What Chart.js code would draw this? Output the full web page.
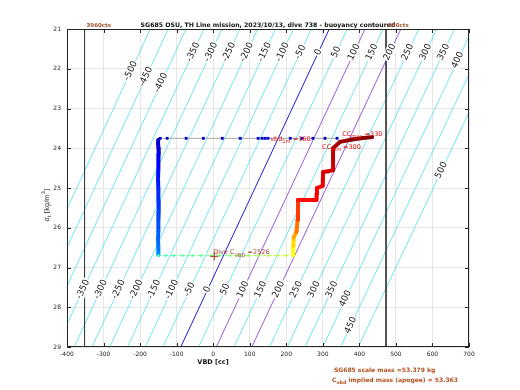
<!DOCTYPE html>
<html><head><meta charset="utf-8">
<script src="https://cdn.jsdelivr.net/npm/chart.js@4/dist/chart.umd.min.js"></script>
<style>html,body{margin:0;padding:0;background:#fff}#w{width:520px;height:390px;position:relative}</style>
</head><body><div id="w"><canvas id="c" width="520" height="390"></canvas></div>
<script>
// ---------------- data ----------------
const titleText = "SG685 OSU, TH Line mission, 2023/10/13, dive 738 - buoyancy contoured";
const xTicks = [-400, -300, -200, -100, 0, 100, 200, 300, 400, 500, 600, 700];
const yTicks = [21, 22, 23, 24, 25, 26, 27, 28, 29];
const contourLevels = [-500, -450, -400, -350, -300, -250, -200, -150, -100, -50, 0, 50, 100, 150, 200, 250, 300, 350, 400, 450, 500];
const gliderMass = 53363;      // g  (C_vbd implied mass)
const gliderVolume0 = 51948;   // cc (hull volume at VBD 0)
const vbdLimits = [-352, 473];
const vbdLimitLabels = ["3960cts", "600cts"];

const surfaceVbd   = [339, 306, 273, 243, 211, 150, 142, 134, 123, 74, 25, -27, -74, -126, -145];
const surfaceSigma = [23.75, 23.75, 23.75, 23.75, 23.75, 23.75, 23.75, 23.75, 23.75, 23.75, 23.75, 23.75, 23.75, 23.75, 23.75];

const descentVbd   = [-150, -151, -150, -149, -150, -150, -151, -150, -150, -149, -150, -150, -151, -150, -150, -150];
const descentSigma = [23.78, 23.86, 23.97, 24.12, 24.31, 24.52, 24.77, 25.03, 25.30, 25.58, 25.84, 26.08, 26.30, 26.48, 26.61, 26.69];

const apogeeVbd   = [-150, -131, -108, -84, -57, -33, -6, 18, 45, 71, 96, 123, 151, 176, 198, 219];
const apogeeSigma = [26.70, 26.70, 26.70, 26.70, 26.70, 26.70, 26.70, 26.70, 26.70, 26.70, 26.70, 26.70, 26.70, 26.70, 26.70, 26.70];

const climbVbd   = [219, 219, 220, 228, 231, 232, 250, 270, 282, 283, 284, 298, 300, 301, 315, 328, 328, 328, 347, 380, 410, 435];
const climbSigma = [26.69, 26.45, 26.25, 26.10, 25.80, 25.30, 25.30, 25.30, 25.30, 25.15, 25.00, 24.95, 24.80, 24.60, 24.58, 24.55, 24.30, 24.00, 23.84, 23.78, 23.74, 23.72];
const climbTime  = [0.62, 0.66, 0.71, 0.76, 0.82, 0.86, 0.865, 0.87, 0.875, 0.88, 0.885, 0.89, 0.90, 0.91, 0.915, 0.92, 0.94, 0.96, 0.975, 0.985, 0.99, 1.0];

const cvbdMarkerVbd = [3];
const cvbdMarkerSigma = [26.72];

const massLines = ["SG685 scale mass =53.379 kg", "implied mass (apogee) = 53.363"];

// ---------------- helpers ----------------
const jet = t => {
  const c = v => Math.round(255 * Math.max(0, Math.min(1, v)));
  return `rgb(${c(1.5 - Math.abs(4*t - 3))},${c(1.5 - Math.abs(4*t - 2))},${c(1.5 - Math.abs(4*t - 1))})`;
};
const vbdAt = (b, s) => (gliderMass + b) * 1000 / (1000 + s) - gliderVolume0;
const zip = (xs, ys) => xs.map((x, i) => ({x, y: ys[i]}));
const lin = (a, b, n) => i => a + (b - a) * i / Math.max(1, n - 1);

// label placements (sigma along each contour)
const topLabelSigma = {"-500": 22.05, "-450": 22.2, "-400": 22.35, "400": 21.78};
const bottomLabelSigma = {"400": 27.78, "450": 28.45};
const FONT = '"DejaVu Sans", sans-serif';

const contourSets = contourLevels.map(b => {
  const special = b === 0 ? '#1e1ed2' : (b === 100 || b === 200) ? '#9b5bdb' : '#4fdfe8';
  return {
    data: [{x: vbdAt(b, 20.5), y: 20.5}, {x: vbdAt(b, 29.5), y: 29.5}],
    showLine: true, borderColor: special, borderWidth: (b === 0 || b === 100 || b === 200) ? 1 : 0.8,
    pointRadius: 0, clip: 0, order: 20
  };
});
const limitSets = vbdLimits.map(v => ({
  data: [{x: v, y: 21}, {x: v, y: 29}], showLine: true, borderColor: '#3c3c3c',
  borderWidth: 1, pointRadius: 0, clip: 0, order: 15
}));

const dT = lin(0.07, 0.27, descentVbd.length);
const aT = lin(0.44, 0.58, apogeeVbd.length);

const traceSets = [
  { data: zip(surfaceVbd, surfaceSigma), showLine: true, borderColor: '#a9a9a9', borderWidth: 1,
    pointStyle: 'rect', pointRadius: 2, pointBackgroundColor: jet(0.07), pointBorderWidth: 0, order: 5 },
  { data: zip(descentVbd, descentSigma), showLine: true, borderWidth: 4,
    segment: {borderColor: ctx => jet(dT(ctx.p0DataIndex))}, borderColor: jet(0.1),
    pointRadius: 1.8, pointBorderWidth: 0, pointBackgroundColor: descentVbd.map((_, i) => jet(dT(i))), order: 4 },
  { data: zip(apogeeVbd, apogeeSigma), showLine: true, borderWidth: 1, borderDash: [3, 2],
    segment: {borderColor: ctx => jet(aT(ctx.p0DataIndex))}, borderColor: jet(0.5),
    pointRadius: 1.4, pointBorderWidth: 0, pointBackgroundColor: apogeeVbd.map((_, i) => jet(aT(i))), order: 3 },
  { data: zip(climbVbd, climbSigma), showLine: true, borderWidth: 4, borderCapStyle: 'round', borderJoinStyle: 'round',
    segment: {borderColor: ctx => jet(climbTime[ctx.p0DataIndex])}, borderColor: jet(0.9),
    pointRadius: 0, order: 2 },
  { data: zip(cvbdMarkerVbd, cvbdMarkerSigma), showLine: false, pointStyle: 'cross', pointRadius: 4,
    borderColor: '#b0301e', borderWidth: 1, order: 1 }
];

function drawParts(ctx, parts, x, y, size, weight) {
  let cx = x;
  parts.forEach(p => {
    const s = p.sub ? size * 0.8 : size;
    ctx.font = `${weight || 'normal'} ${s}px ${FONT}`;
    ctx.fillText(p.t, cx, p.sub ? y + size * 0.45 : y);
    cx += ctx.measureText(p.t).width;
  });
}

const annotations = [
  {parts: [{t: 'vbd'}, {t: '1m', sub: true}, {t: ' =160'}], vbd: 156, sigma: 23.77, color: '#e01010'},
  {parts: [{t: 'CC'}, {t: 'max', sub: true}, {t: ' =330'}], vbd: 353, sigma: 23.64, color: '#e01010'},
  {parts: [{t: 'CC'}, {t: 'min', sub: true}, {t: ' =300'}], vbd: 298, sigma: 23.97, color: '#e01010'},
  {parts: [{t: 'Dive C'}, {t: 'VBD', sub: true}, {t: ' =2526'}], vbd: 0, sigma: 26.62, color: '#a8402c'}
];

const overlay = {
  id: 'overlay',
  beforeDraw(chart) {
    const c = chart.ctx; c.save(); c.fillStyle = '#fff'; c.fillRect(0, 0, chart.width, chart.height); c.restore();
  },
  afterDatasetsDraw(chart) {
    const c = chart.ctx, xs = chart.scales.x, ys = chart.scales.y, a = chart.chartArea;
    c.save();
    c.beginPath(); c.rect(a.left, a.top, a.right - a.left, a.bottom - a.top); c.clip();
    const lab = (b, s) => {
      const px = xs.getPixelForValue(vbdAt(b, s)), py = ys.getPixelForValue(s);
      const p1x = xs.getPixelForValue(vbdAt(b, 21)), p1y = ys.getPixelForValue(21);
      const p2x = xs.getPixelForValue(vbdAt(b, 29)), p2y = ys.getPixelForValue(29);
      const ang = Math.atan2(p1y - p2y, p1x - p2x);
      c.save(); c.translate(px, py); c.rotate(ang);
      c.font = `9px ${FONT}`;
      const w = c.measureText(String(b)).width;
      c.fillStyle = '#fff'; c.fillRect(-w/2 - 1, -5, w + 2, 10);
      c.fillStyle = '#1a1a1a'; c.textAlign = 'center'; c.textBaseline = 'middle';
      c.fillText(String(b), 0, 0);
      c.restore();
    };
    contourLevels.forEach(b => {
      if (b >= -500 && b <= 400) lab(b, topLabelSigma[b] !== undefined ? topLabelSigma[b] : 21.58);
      if (b >= -350 && b <= 450) lab(b, bottomLabelSigma[b] !== undefined ? bottomLabelSigma[b] : 27.55);
      if (b === 500) lab(b, 24.55);
    });
    c.restore();
    c.save();
    c.strokeStyle = '#262626'; c.lineWidth = 1;
    c.strokeRect(Math.round(a.left) + 0.5, Math.round(a.top) + 0.5, Math.round(a.right - a.left) - 1, Math.round(a.bottom - a.top) - 1);
    c.beginPath();
    xTicks.forEach(v => {
      const px = Math.round(xs.getPixelForValue(v)) + 0.5;
      c.moveTo(px, a.bottom); c.lineTo(px, a.bottom - 4);
      c.moveTo(px, a.top); c.lineTo(px, a.top + 4);
    });
    yTicks.forEach(v => {
      const py = Math.round(ys.getPixelForValue(v)) + 0.5;
      c.moveTo(a.left, py); c.lineTo(a.left + 4, py);
      c.moveTo(a.right, py); c.lineTo(a.right - 4, py);
    });
    c.stroke();
    c.textBaseline = 'middle'; c.textAlign = 'left';
    annotations.forEach(an => {
      c.fillStyle = an.color;
      drawParts(c, an.parts, xs.getPixelForValue(an.vbd), ys.getPixelForValue(an.sigma), 6.5, 'normal');
    });
    c.restore();
  },
  afterDraw(chart) {
    const c = chart.ctx, xs = chart.scales.x, a = chart.chartArea;
    c.save();
    c.fillStyle = '#111'; c.textAlign = 'center'; c.textBaseline = 'middle';
    c.font = `bold 6.2px ${FONT}`;
    c.fillText(titleText, 268, 25);
    c.font = `bold 6.5px ${FONT}`;
    c.fillText('VBD [cc]', (a.left + a.right) / 2 - 55, 362);
    c.fillStyle = '#a0522d'; c.textAlign = 'left'; c.font = `bold 5.5px ${FONT}`;
    vbdLimits.forEach((v, i) => c.fillText(vbdLimitLabels[i], xs.getPixelForValue(v) + 2, 26));
    c.fillStyle = '#b4501e';
    c.font = `bold 6px ${FONT}`;
    c.fillText(massLines[0], 334, 370);
    drawParts(c, [{t: 'C'}, {t: 'vbd', sub: true}, {t: ' ' + massLines[1]}], 332, 380, 6, 'bold');
    c.fillStyle = '#111';
    c.translate(47, 205); c.rotate(-Math.PI / 2);
    c.textAlign = 'left';
    const parts = [{t: 'σ'}, {t: 't', sub: true}, {t: ' [kg/m'}, {t: '3', sup: true}, {t: ']'}];
    let tw = 0;
    parts.forEach(p => { c.font = `${p.sub || p.sup ? 5 : 6.5}px ${FONT}`; tw += c.measureText(p.t).width; });
    let cx = -tw / 2;
    parts.forEach(p => {
      c.font = `${p.sub || p.sup ? 5 : 6.5}px ${FONT}`;
      c.fillText(p.t, cx, p.sub ? 2.5 : p.sup ? -3 : 0);
      cx += c.measureText(p.t).width;
    });
    c.restore();
  }
};

new Chart(document.getElementById('c'), {
  type: 'scatter',
  data: {datasets: [...contourSets, ...limitSets, ...traceSets]},
  options: {
    responsive: false, animation: false, events: [],
    layout: {padding: {top: 29, right: 51, left: 0, bottom: 0}},
    plugins: {legend: {display: false}, tooltip: {enabled: false}, title: {display: false}},
    scales: {
      x: {
        type: 'linear', min: -400, max: 700,
        afterBuildTicks: s => { s.ticks = xTicks.map(v => ({value: v})); },
        afterFit: s => { s.height = 43; },
        grid: {color: '#e6e6e6', drawTicks: false, tickLength: 0},
        border: {display: false},
        ticks: {font: {size: 6, family: FONT}, color: '#222', padding: 4, maxRotation: 0, autoSkip: false}
      },
      y: {
        type: 'linear', min: 21, max: 29, reverse: true,
        afterBuildTicks: s => { s.ticks = yTicks.map(v => ({value: v})); },
        afterFit: s => { s.width = 67; },
        grid: {color: '#e6e6e6', drawTicks: false, tickLength: 0},
        border: {display: false},
        ticks: {font: {size: 6, family: FONT}, color: '#222', padding: 6, autoSkip: false}
      }
    }
  },
  plugins: [overlay]
});
</script>
</body></html>
